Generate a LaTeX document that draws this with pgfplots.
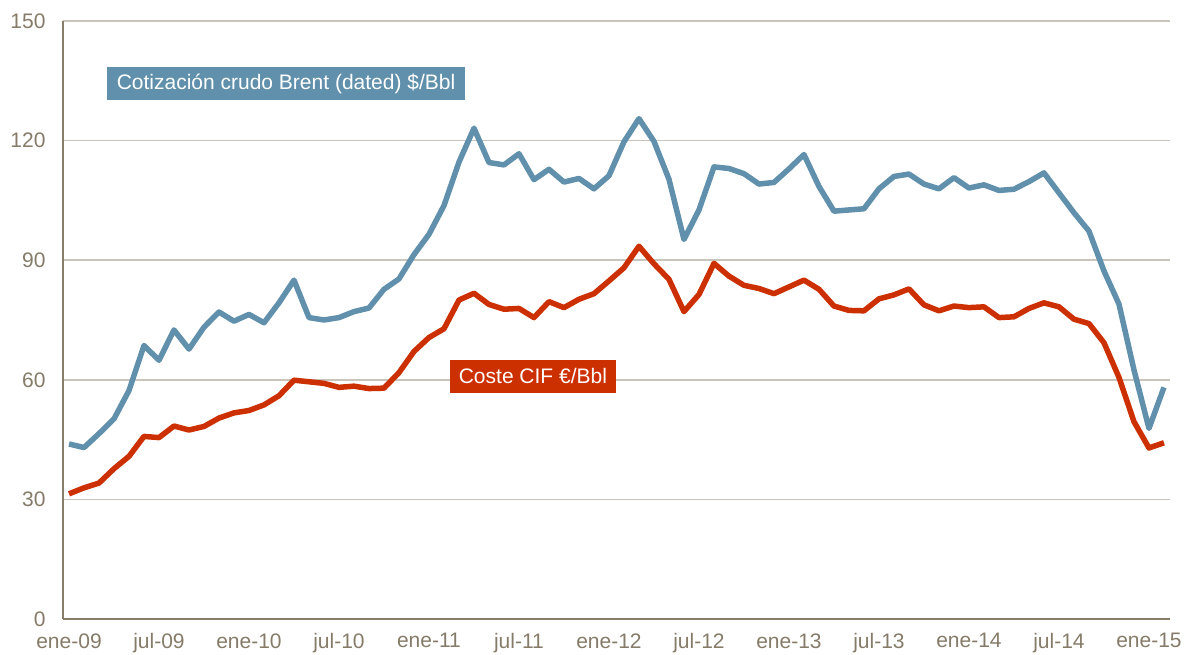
\documentclass[border=0pt]{standalone}
\usepackage{pgfplots}
\pgfplotsset{compat=1.18}
\usepackage{pgfplotstable}
\usepackage{fontspec}
\setmainfont{Liberation Sans}
\definecolor{brent}{HTML}{6090AB}
\definecolor{cif}{HTML}{CC2F00}
\definecolor{axcol}{HTML}{887D68}
\definecolor{gridcol}{HTML}{C9C4BC}
\definecolor{tickcol}{HTML}{857B68}

\pgfplotstableread{
m v
0 43.9
1 43.0
2 46.5
3 50.2
4 57.3
5 68.6
6 64.9
7 72.5
8 67.7
9 73.2
10 77.0
11 74.7
12 76.4
13 74.3
14 79.3
15 85.0
16 75.6
17 75.0
18 75.6
19 77.1
20 78.0
21 82.7
22 85.3
23 91.4
24 96.5
25 103.7
26 114.6
27 123.1
28 114.5
29 113.9
30 116.7
31 110.2
32 112.8
33 109.6
34 110.5
35 107.9
36 111.2
37 119.7
38 125.5
39 119.8
40 110.3
41 95.2
42 102.6
43 113.4
44 113.0
45 111.7
46 109.1
47 109.5
48 112.9
49 116.5
50 108.5
51 102.3
52 102.6
53 102.9
54 107.9
55 111.0
56 111.6
57 109.1
58 107.9
59 110.7
60 108.1
61 108.9
62 107.5
63 107.8
64 109.7
65 111.9
66 106.9
67 101.9
68 97.3
69 87.3
70 79.0
71 62.5
72 47.8
73 58.1
}\brent

\pgfplotstableread{
m v
0 31.4
1 32.9
2 34.1
3 37.7
4 40.8
5 45.8
6 45.5
7 48.4
8 47.4
9 48.3
10 50.4
11 51.7
12 52.3
13 53.7
14 56.0
15 59.9
16 59.5
17 59.1
18 58.1
19 58.4
20 57.8
21 57.9
22 61.8
23 67.1
24 70.6
25 72.8
26 80.0
27 81.7
28 78.9
29 77.7
30 77.9
31 75.6
32 79.6
33 78.1
34 80.2
35 81.6
36 84.8
37 88.1
38 93.5
39 89.1
40 85.2
41 77.1
42 81.4
43 89.2
44 86.0
45 83.7
46 82.9
47 81.6
48 83.3
49 85.0
50 82.7
51 78.5
52 77.4
53 77.3
54 80.3
55 81.3
56 82.8
57 78.8
58 77.3
59 78.5
60 78.1
61 78.3
62 75.6
63 75.8
64 77.9
65 79.3
66 78.3
67 75.2
68 74.1
69 69.3
70 60.6
71 49.5
72 42.9
73 44.2
}\cif

\begin{document}
\begin{tikzpicture}
\begin{axis}[
  at={(63pt,36pt)}, anchor=south west,
  scale only axis, width=1107pt, height=598pt,
  xmin=-0.4, xmax=73.4, ymin=0, ymax=150,
  axis x line*=bottom, axis y line*=left,
  axis line style={axcol, line width=2pt},
  x axis line style={-}, y axis line style={-},
  xtick={0,6,...,72},
  xticklabels={ene-09,jul-09,ene-10,jul-10,ene-11,jul-11,ene-12,jul-12,ene-13,jul-13,ene-14,jul-14,ene-15},
  ytick={0,30,60,90,120,150},
  ymajorgrids, grid style={gridcol, line width=1.5pt},
  major tick length=0pt,
  tick label style={tickcol, font=\fontsize{21}{24}\selectfont},
  xticklabel style={yshift=-11pt},
  yticklabel style={xshift=-14pt},
  /pgf/number format/assume math mode=true,
  clip=false,
]
\addplot[brent, line width=5.5pt, line join=round] table[x=m, y=v] {\brent};
\addplot[cif, line width=5.5pt, line join=round] table[x=m, y=v] {\cif};
\node[fill=brent, text=white, inner xsep=10pt, inner ysep=0pt, minimum height=33pt,
  font=\fontsize{21}{24}\selectfont] at (axis cs:14.47,134.2) {Cotización crudo Brent (dated) \$/Bbl};
\node[fill=cif, text=white, inner xsep=9pt, inner ysep=0pt, minimum height=33pt,
  font=\fontsize{21}{24}\selectfont] at (axis cs:30.93,60.9) {Coste CIF €/Bbl};
\end{axis}
\pgfresetboundingbox
\useasboundingbox (0,0) rectangle (1184pt,655pt);
\end{tikzpicture}
\end{document}
